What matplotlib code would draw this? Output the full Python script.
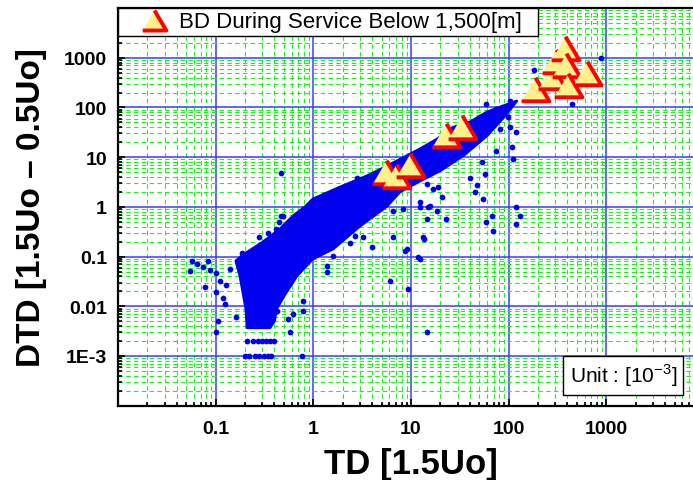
import matplotlib.pyplot as plt
from matplotlib.ticker import LogLocator, NullFormatter

plt.rcParams['font.family'] = ['Liberation Sans', 'DejaVu Sans']
plt.rcParams['mathtext.fontset'] = 'custom'
plt.rcParams['mathtext.rm'] = 'Liberation Sans'

# nube densa de puntos (contorno)
core_td = [121, 91, 60, 34, 19.8, 12.3, 7.7, 5.7, 3.0, 1.59, 0.99, 0.68, 0.50, 0.42,
           0.40, 0.36, 0.21, 0.204, 0.19, 0.177, 0.161, 0.19, 0.305, 0.455, 0.62, 0.82,
           0.99, 1.87, 3.54, 5.7, 12.3, 18.4, 27, 40, 60, 87]
core_dtd = [135, 67, 27, 10.6, 5.3, 3.3, 2.0, 1.04, 0.41, 0.142, 0.09, 0.041, 0.016, 0.0088,
            0.0051, 0.0037, 0.0037, 0.0088, 0.019, 0.041, 0.082, 0.108, 0.197, 0.36, 0.66, 1.0,
            1.44, 2.5, 4.2, 6.65, 14.6, 23, 40, 51, 81, 107]

# puntos sueltos
pts_td = [0.057, 0.084, 0.054, 0.064, 0.074, 0.088, 0.10, 0.078, 0.10, 0.12, 0.106, 0.10,
          0.16, 0.11, 0.127, 0.14, 0.124,
          0.20, 0.22, 0.25, 0.28, 0.31, 0.34, 0.37, 0.76,
          0.21, 0.24, 0.27, 0.30, 0.33, 0.36, 0.40,
          0.55, 0.62, 0.79, 0.79, 0.42, 0.575, 1.37, 1.37, 1.6,
          0.47, 1.28, 2.77, 6.6, 8.3, 12.3, 15, 16.9, 23, 47, 57, 55, 67, 59, 69,
          13.6, 6.6, 8.7, 11.9, 3.95, 6.1, 9.4, 14.5, 2.67, 3.24, 2.37, 0.49,
          14.5, 12.3, 18.3, 14.5, 9.0, 13.3, 12.3,
          181, 890, 450,
          59, 75, 103, 62, 81, 99, 103, 120, 75, 107, 110, 53, 40, 45, 21, 19, 15.6,
          120, 130, 120,
          0.28, 0.34, 0.41, 0.44, 0.47, 0.185]
pts_dtd = [0.083, 0.083, 0.052, 0.071, 0.062, 0.054, 0.047, 0.024, 0.019, 0.015, 0.0051, 0.003,
           0.006, 0.033, 0.027, 0.056, 0.011,
           0.001, 0.001, 0.001, 0.001, 0.001, 0.001, 0.001, 0.001,
           0.002, 0.002, 0.002, 0.002, 0.002, 0.002, 0.002,
           0.0056, 0.007, 0.0082, 0.013, 0.0082, 0.003, 0.066, 0.048, 0.104,
           4.8, 1.73, 3.9, 0.84, 0.91, 0.98, 0.98, 2.3, 0.57, 2.7, 4.6, 1.44, 0.67, 0.49, 0.33,
           0.23, 0.245, 0.13, 0.097, 0.154, 0.033, 0.022, 0.003, 0.26, 0.245, 0.19, 0.665,
           2.9, 1.24, 0.84, 0.57, 0.142, 0.245, 0.09,
           570, 980, 118,
           118, 93, 137, 59, 37, 63, 40, 32, 13.5, 15.8, 9.2, 7.9, 3.9, 2.0, 1.56, 2.5, 1.06,
           0.98, 0.665, 0.45,
           0.245, 0.30, 0.36, 0.49, 0.65, 0.12]

# BD durante servicio
bd_td = [5.6, 7.1, 9.7, 23, 33, 185, 277, 304, 380, 385, 403, 640]
bd_dtd = [5.1, 4.1, 7.0, 28, 41, 236, 411, 863, 1575, 716, 284, 494]

x_ticks = [1e-2, 0.1, 1, 10, 100, 1000, 1e4]
x_labels = ['', '0.1', '1', '10', '100', '1000', '']
y_ticks = [1e-4, 1e-3, 0.01, 0.1, 1, 10, 100, 1000, 1e4]
y_labels = ['', '1E-3', '0.01', '0.1', '1', '10', '100', '1000', '']

azul = '#0000f0'

fig = plt.figure(figsize=(6.93, 4.81), dpi=100)
ax = fig.add_axes([0.1703, 0.1545, 0.8456, 0.8266])
ax.set_xscale('log')
ax.set_yscale('log')
ax.set_xlim(1e-2, 1e4)
ax.set_ylim(1e-4, 1e4)

ax.fill(core_td, core_dtd, color=azul, ec=azul, lw=2, joinstyle='round', zorder=3)
ax.scatter(pts_td, pts_dtd, s=17, color=azul, lw=0, zorder=3)

tri = [(-1, -0.85), (1, -0.85), (0, 0.85)]
ax.plot(bd_td, bd_dtd, ls='none', marker=tri, ms=20, mfc='#fff08a', mec='#ff0000',
        mew=2.8, zorder=4, label='BD During Service Below 1,500[m]  ')

ax.set_xticks(x_ticks, x_labels)
ax.set_yticks(y_ticks, y_labels)
ax.xaxis.set_minor_locator(LogLocator(base=10, subs=range(2, 10), numticks=20))
ax.yaxis.set_minor_locator(LogLocator(base=10, subs=range(2, 10), numticks=20))
ax.xaxis.set_minor_formatter(NullFormatter())
ax.yaxis.set_minor_formatter(NullFormatter())

ax.grid(which='major', color='#3b3bff', lw=1.1, ls='-', zorder=1)
ax.grid(which='minor', color='#22ee22', lw=0.8, ls=(0, (4, 3)), zorder=1)
ax.set_axisbelow(True)

ax.tick_params(which='both', direction='in', width=1.2, color='black')
ax.tick_params(which='major', length=5)
ax.tick_params(which='minor', length=3)
ax.tick_params(axis='x', which='major', pad=10, labelsize=14)
ax.tick_params(axis='y', which='major', pad=8, labelsize=14)
for lab in ax.get_xticklabels() + ax.get_yticklabels():
    lab.set_fontweight('bold')

for s in ax.spines.values():
    s.set_linewidth(1.6)

ax.set_xlabel('TD [1.5Uo]', fontsize=25, fontweight='bold')
ax.set_ylabel('DTD [1.5Uo – 0.5Uo]', fontsize=24, fontweight='bold')
ax.xaxis.set_label_coords(0.5, -0.103)
ax.yaxis.set_label_coords(-0.121, 0.5)

leg = ax.legend(loc='upper left', borderaxespad=0, fontsize=16, frameon=True,
                fancybox=False, edgecolor='black', framealpha=1, borderpad=0.15,
                handletextpad=-0.35, handlelength=2.95)
leg.get_frame().set_linewidth(1.0)
leg.legend_handles[0].set_markersize(17)

ax.text(0.862, 0.077, 'Unit : [10$^{-3}$]', transform=ax.transAxes, ha='center',
        va='center', fontsize=15,
        bbox=dict(boxstyle='square,pad=0.3', fc='white', ec='black', lw=1.0), zorder=6)

fig.savefig('out.png', dpi=100)
